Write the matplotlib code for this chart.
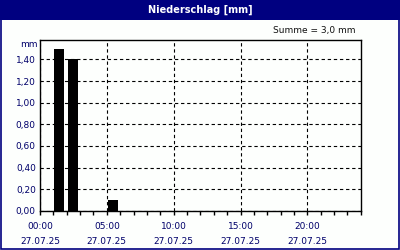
import matplotlib
matplotlib.use("Agg")
import matplotlib.pyplot as plt
from matplotlib.patches import Rectangle
from matplotlib.ticker import FixedLocator, MultipleLocator, FuncFormatter

# data
hours = [1, 2, 5]
rain = [1.5, 1.4, 0.1]
tick_hours = [0, 5, 10, 15, 20]
tick_labels = ["00:00\n27.07.25", "05:00\n27.07.25", "10:00\n27.07.25",
               "15:00\n27.07.25", "20:00\n27.07.25"]
title = "Niederschlag [mm]"
summe = "Summe = 3,0 mm"

navy = "#000080"
txtcol = "#00006a"

plt.rcParams['font.family'] = ['DejaVu Sans']
fig = plt.figure(figsize=(4, 2.5), dpi=100, facecolor="#fdfffd")

# title bar and frame
fig.patches.append(Rectangle((0, 0.922), 1, 0.078, transform=fig.transFigure,
                             facecolor=navy, edgecolor="none", zorder=0))
fig.patches.append(Rectangle((0.002, 0.003), 0.995, 0.995, transform=fig.transFigure,
                             facecolor="none", edgecolor=navy, lw=1.2, zorder=5))
fig.text(0.5, 0.962, title, color="white", fontsize=7, fontweight="bold",
         ha="center", va="center")
fig.text(0.888, 0.876, summe, color="#101010", fontsize=6.5, ha="right", va="center")
fig.text(0.093, 0.823, "mm", color=txtcol, fontsize=6.5, ha="right", va="center")

ax = fig.add_axes([0.1, 0.157, 0.802, 0.683])
ax.set_facecolor("#fdfffd")
ax.bar([h + 0.45 for h in hours], rain, width=0.75, color="black", zorder=3)

ax.set_xlim(0, 24)
ax.set_ylim(0, 1.58)
ax.xaxis.set_major_locator(FixedLocator(tick_hours))
ax.set_xticklabels(tick_labels)
ax.xaxis.set_minor_locator(MultipleLocator(1))
ax.yaxis.set_major_locator(FixedLocator([0, 0.2, 0.4, 0.6, 0.8, 1.0, 1.2, 1.4]))
ax.yaxis.set_major_formatter(FuncFormatter(lambda v, p: ("%.2f" % v).replace(".", ",")))

ax.grid(True, which="major", color="black", linestyle=(0, (3, 2.5)), lw=0.8, zorder=1)
ax.tick_params(axis="x", which="both", length=3, width=1, direction="out",
               color="black", labelsize=6.5, labelcolor=txtcol, pad=5)
ax.tick_params(axis="y", length=0, labelsize=6.5, labelcolor=txtcol, pad=3)
for lab in ax.get_xticklabels():
    lab.set_linespacing(1.85)
for s in ax.spines.values():
    s.set_linewidth(1)
    s.set_color("black")

fig.savefig("out.png", dpi=100, facecolor=fig.get_facecolor())
